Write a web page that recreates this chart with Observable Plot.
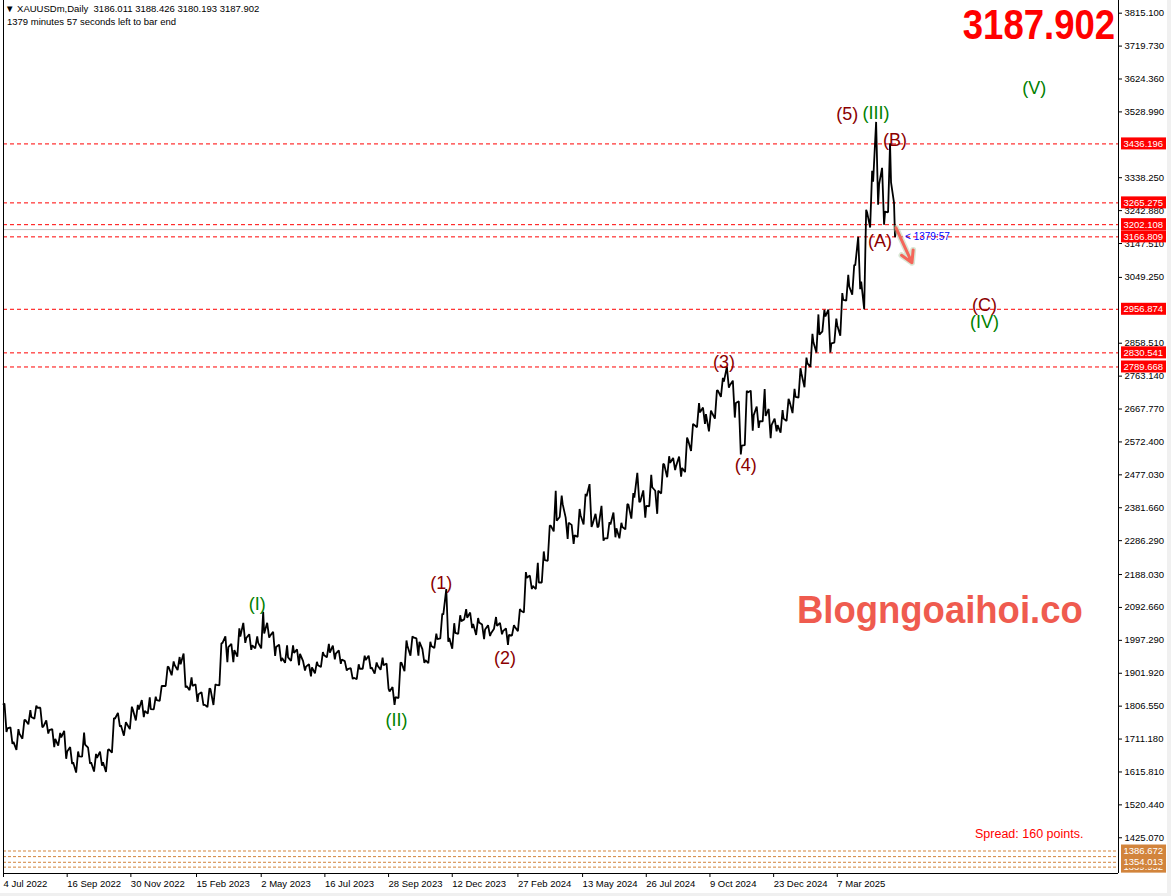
<!DOCTYPE html>
<html><head><meta charset="utf-8">
<script src="https://cdn.jsdelivr.net/npm/d3@7"></script>
<script src="https://cdn.jsdelivr.net/npm/@observablehq/plot@0.6"></script>
<style>
body{margin:0;background:#f0f0f0;}
#wrap{position:relative;width:1171px;height:896px;overflow:hidden;}
.ov{position:absolute;font-family:"Liberation Sans",Arial,sans-serif;white-space:nowrap;}
</style></head><body><div id="wrap"></div>
<script>
// ---------- texts ----------
const symbol = "XAUUSDm,Daily";
const lastOHLC = [3186.011, 3188.426, 3180.193, 3187.902];
const countdownText = "1379 minutes 57 seconds left to bar end";
const countdownShort = "< 1379:57";
const spreadText = "Spread: 160 points.";
const watermark = "Blogngoaihoi.co";

// ---------- price data: weekly (Mon) low / high / close ----------
const firstWeek = "2022-07-04";
const firstOpen = 1812;
const lastBarDate = "2025-05-15";
const weekLow = [
  // 2022
  1732,1697,1680,1712, 1754,1770,1746,1727,1688, 1692,1654,1639,1614, 1660,1640,1617,1634,1616, 1672,1747,1721,1740, 1765,1775,1785,1797,
  // 2023
  1822,1865,1896,1911,1861, 1853,1819,1809,1804, 1810,1867,1934,1934, 1950,1990,1970,1974, 1974,2005,1952,1937,1932, 1938,1925,1910,1893,
  1902,1920,1948,1942,1929, 1910,1885,1885,1915, 1915,1901,1912,1857, 1810,1830,1908,1953,1953, 1932,1931,1975,2003, 1993,1973,2016,2058,
  // 2024
  2033,2013,2001,2010,2031, 2015,1984,2011,2024, 2078,2146,2146,2165, 2228,2313,2355,2291,2277, 2297,2333,2326,2325, 2286,2293,2296,2293,
  2319,2350,2398,2353,2386, 2364,2423,2470,2491, 2472,2485,2546,2615,2625, 2603,2640,2703,2730, 2643,2536,2563,2605, 2613,2632,2583,2603,2599,
  // 2025
  2633,2656,2701,2731, 2790,2832,2893,2832, 2860,2880,2982,2999,3015, 2957,3194,3260,3202, 3238,3166
];
const weekHigh = [
  1814,1745,1740,1767, 1795,1808,1802,1765,1740, 1729,1735,1688,1675, 1730,1686,1668,1675,1680, 1772,1787,1760,1805, 1810,1824,1832,1834,
  1865,1921,1936,1949,1959, 1890,1870,1847,1858, 1870,1989,2009,1987, 2032,2048,2015,2009, 2080,2048,2022,1985,1983, 1983,1971,1938,1928,
  1935,1963,1987,1982,1968, 1937,1917,1928,1953, 1953,1933,1947,1930, 1862,1933,1997,2009,2003, 1972,1993,2017,2075, 2146,2047,2070,2088,
  2078,2062,2043,2041,2065, 2048,2032,2041,2088, 2195,2185,2222,2255, 2330,2431,2417,2353,2332, 2378,2422,2450,2364, 2387,2340,2368,2338,
  2392,2424,2483,2432,2477, 2431,2509,2531,2526, 2530,2585,2625,2685,2672, 2663,2722,2758,2790, 2750,2690,2721,2721, 2675,2726,2668,2640,2665,
  2697,2726,2786,2817, 2886,2942,2955,2956, 2930,3004,3057,3086,3167, 3245,3358,3500,3367, 3438,3265
];
const weekClose = [
  1742,1703,1727,1766, 1775,1802,1747,1737,1712, 1716,1675,1644,1661, 1695,1644,1657,1644,1681, 1770,1751,1755,1797, 1797,1793,1798,1824,
  1865,1920,1926,1928,1865, 1865,1841,1811,1856, 1868,1989,1978,1969, 2008,2004,1983,1990, 2017,2011,1978,1946,1948, 1961,1958,1921,1919,
  1925,1955,1962,1959,1942, 1914,1889,1915,1940, 1919,1924,1925,1849, 1833,1932,1981,2006,1993, 1940,1981,2001,2072, 2004,2019,2053,2063,
  2045,2049,2029,2018,2039, 2024,2013,2036,2083, 2179,2155,2165,2230, 2330,2344,2392,2338,2302, 2360,2415,2334,2327, 2293,2333,2322,2326,
  2391,2411,2400,2387,2441, 2431,2507,2512,2503, 2497,2578,2622,2658,2653, 2657,2721,2747,2737, 2685,2562,2716,2650, 2633,2648,2622,2621,2640,
  2690,2703,2770,2800, 2861,2883,2936,2858, 2910,2984,3023,3084,3037, 3237,3327,3319,3240, 3325,3187.902
];

// ---------- levels ----------
const redLevels = [3436.196, 3265.275, 3202.108, 3166.809, 2956.874, 2830.541, 2789.668];
const orangeLevels = [1370.446, 1339.952, 1386.672, 1354.013];

// ---------- axes ----------
const yTicks = [3815.100, 3719.730, 3624.360, 3528.990, 3338.250, 3242.880, 3147.510, 3049.250, 2858.510, 2763.140,
  2667.770, 2572.400, 2477.030, 2381.660, 2286.290, 2188.030, 2092.660, 1997.290, 1901.920, 1806.550, 1711.180,
  1615.810, 1520.440, 1425.070];
const xTickDates = ["2022-07-04","2022-09-16","2022-11-30","2023-02-15","2023-05-02","2023-07-16","2023-09-28",
  "2023-12-12","2024-02-27","2024-05-13","2024-07-26","2024-10-09","2024-12-23","2025-03-07"];
const xTickLabels = ["4 Jul 2022","16 Sep 2022","30 Nov 2022","15 Feb 2023","2 May 2023","16 Jul 2023","28 Sep 2023",
  "12 Dec 2023","27 Feb 2024","13 May 2024","26 Jul 2024","9 Oct 2024","23 Dec 2024","7 Mar 2025"];

// ---------- Elliott wave labels ----------
const waveText  = ["(I)","(II)","(III)","(IV)","(V)","(1)","(2)","(3)","(4)","(5)","(A)","(B)","(C)"];
const waveDate  = ["2023-04-27","2023-10-08","2025-04-22","2025-08-27","2025-10-24","2023-11-29","2024-02-12",
  "2024-10-25","2024-11-20","2025-03-19","2025-04-27","2025-05-14","2025-08-27"];
const wavePrice = [2101, 1765, 3524, 2918, 3597, 2162, 1945, 2803, 2504, 3521, 3153, 3446, 2968];
const waveDegree = ["P","P","P","P","P","I","I","I","I","I","I","I","I"];

// forecast arrow (from last bar down)
const arrowFrom = {date: "2025-05-15", price: 3193};
const arrowTo = {date: "2025-06-03", price: 3092};

// ---------- helpers ----------
const t0 = Date.UTC(2022, 6, 4);
function barIndex(s) {
  const d = typeof s === "string" ? Date.parse(s + "T00:00:00Z") : s;
  const days = Math.round((d - t0) / 864e5);
  const w = Math.floor(days / 7), r = days - w * 7;
  return w * 6 + Math.min(r, 5); // Sun..Fri bars (no Saturday)
}
const lastIdx = barIndex(lastBarDate);

// price path through each week's open -> extreme -> extreme -> close
const path = [{i: barIndex(firstWeek), p: firstOpen}];
let open = firstOpen;
weekLow.forEach((lo, k) => {
  const m = barIndex(Date.parse(firstWeek + "T00:00:00Z") + k * 7 * 864e5);
  const hi = weekHigh[k], c = weekClose[k];
  const up = c >= open;
  const end = Math.min(m + 4, lastIdx);
  path.push({i: Math.min(m + 1, end - 2), p: up ? lo : hi});
  path.push({i: Math.min(m + 3, end - 1), p: up ? hi : lo});
  path.push({i: end, p: c});
  open = c;
});

const waves = waveText.map((t, k) => ({t, i: barIndex(waveDate[k]), p: wavePrice[k], deg: waveDegree[k]}));
const tickIdx = xTickDates.map(barIndex);
const tickLabelMap = new Map(tickIdx.map((v, k) => [v, xTickLabels[k]]));

const W = 1167, H = 893;
const xMax = 1120.6;
const yMin = 1321.5, yMax = 3851.9;
const font = "Liberation Sans, Arial, sans-serif";

const chart = Plot.plot({
  width: W, height: H,
  marginLeft: 3, marginRight: W - 1118, marginTop: 0, marginBottom: H - 873,
  style: {fontFamily: font, fontSize: "9.5px", background: "white", color: "black", overflow: "visible"},
  x: {domain: [0, xMax]},
  y: {domain: [yMin, yMax]},
  marks: [
    Plot.ruleY(orangeLevels, {stroke: "#d2843c", strokeDasharray: "3,2"}),
    Plot.ruleY([lastOHLC[3]], {stroke: "#c0c0c0"}),
    Plot.ruleY(redLevels, {stroke: "#ff0000", strokeDasharray: "4,3"}),
    Plot.line(path, {x: "i", y: "p", stroke: "black", strokeWidth: 1.8, strokeLinejoin: "miter"}),
    Plot.text(waves, {x: "i", y: "p", text: "t", fill: d => d.deg === "P" ? "#008000" : "#8b0000",
      fontSize: 18, fontFamily: font}),
    Plot.text([{i: lastIdx, p: redLevels[3]}], {x: "i", y: "p", text: () => countdownShort, textAnchor: "start",
      dx: 9, fill: "#0000ff", fontSize: 10}),
    Plot.arrow([{a: barIndex(arrowFrom.date), b: arrowFrom.price, c: barIndex(arrowTo.date), d: arrowTo.price}],
      {x1: "a", y1: "b", x2: "c", y2: "d", stroke: "#a8c8a0", strokeWidth: 6, strokeOpacity: 0.45, headLength: 10}),
    Plot.arrow([{a: barIndex(arrowFrom.date), b: arrowFrom.price, c: barIndex(arrowTo.date), d: arrowTo.price}],
      {x1: "a", y1: "b", x2: "c", y2: "d", stroke: "#f4665a", strokeWidth: 3, headLength: 10}),
    Plot.ruleX([0, xMax], {stroke: "black"}),
    Plot.ruleY([yMin], {stroke: "black"}),
    Plot.axisY(yTicks, {anchor: "right", tickSize: 3, tickPadding: 3, tickFormat: d => d.toFixed(3), fontSize: 9.5}),
    Plot.axisX(tickIdx, {anchor: "bottom", tickSize: 4, tickPadding: 3, textAnchor: "start", dx: 0,
      tickFormat: d => tickLabelMap.get(d), fontSize: 9.5})
  ]
});

// level tags on the price axis, positioned through the chart's own y scale
const ys = chart.scale("y");
const svg = d3.select(chart);
const tags = svg.append("g").attr("font-family", font).attr("font-size", 9.5).attr("text-anchor", "start");
function tag(v, fill) {
  const y = ys.apply(v);
  tags.append("rect").attr("x", 1121).attr("y", y - 6).attr("width", 45).attr("height", 12).attr("fill", fill);
  tags.append("text").attr("x", 1123.5).attr("y", y).attr("dy", "0.35em").attr("fill", "white")
    .attr("text-anchor", "start").text(v.toFixed(3));
}
orangeLevels.forEach(v => tag(v, "#d2843c"));
redLevels.forEach(v => tag(v, "#ff0000"));

const wrap = document.getElementById("wrap");
wrap.appendChild(chart);

function ov(text, css) {
  const d = document.createElement("div");
  d.className = "ov";
  d.textContent = text;
  Object.assign(d.style, css);
  wrap.appendChild(d);
  return d;
}
ov("\u25BC " + symbol + "  " + lastOHLC.map(v => v.toFixed(3)).join(" "),
  {left: "5px", top: "3px", fontSize: "9.5px", lineHeight: "12px", whiteSpace: "pre"});
ov(countdownText, {left: "7px", top: "16px", fontSize: "9.5px", lineHeight: "12px"});
ov(lastOHLC[3].toFixed(3), {right: "56px", top: "4px", fontSize: "42px", lineHeight: "42px", fontWeight: "bold",
  color: "#f00", transform: "scaleX(0.87)", transformOrigin: "right top"});
ov(watermark, {left: "797px", top: "591px", fontSize: "38px", lineHeight: "38px", fontWeight: "bold",
  color: "#ef5b4f", transform: "scaleX(0.96)", transformOrigin: "left top"});
ov(spreadText, {left: "975px", top: "827px", fontSize: "12.5px", lineHeight: "14px", color: "#f00"});
</script></body></html>
